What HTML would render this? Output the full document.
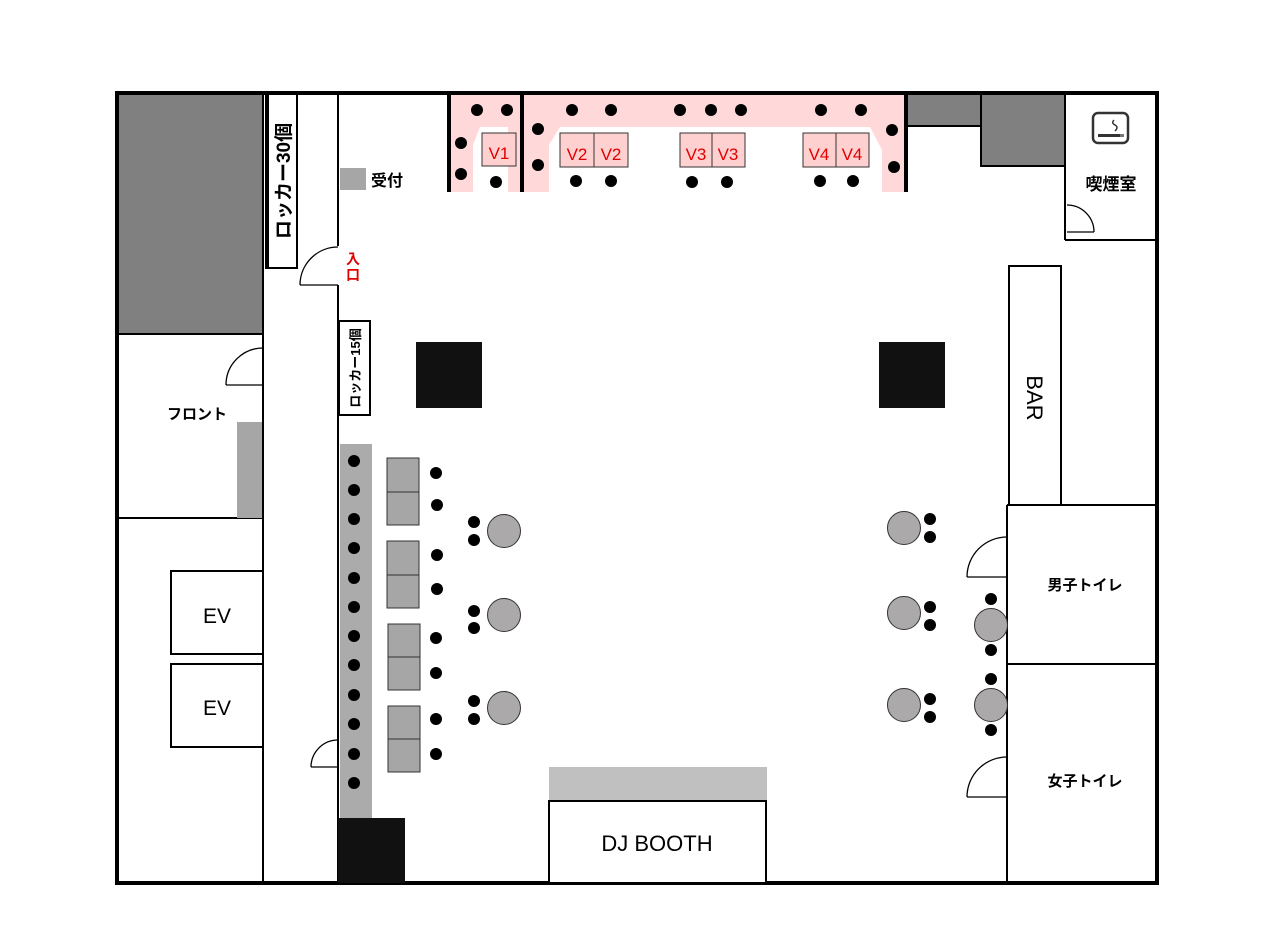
<!DOCTYPE html>
<html><head><meta charset="utf-8"><style>
html,body{margin:0;padding:0;background:#fff;}
svg{display:block;font-family:"Liberation Sans","Noto Sans CJK JP",sans-serif;}
</style></head><body>
<svg width="1280" height="945" viewBox="0 0 1280 945" xmlns="http://www.w3.org/2000/svg">
<rect width="1280" height="945" fill="#fff"/>
<rect x="118" y="94" width="145" height="240" fill="#808080"/>
<path d="M450,94 H521 V192 H508 V127 H480 L473,145 V192 H450 Z" fill="#ffd9d9"/>
<path d="M523,94 H905 V192 H882 V150 L870,127 H560 L549,145 V192 H523 Z" fill="#ffd9d9"/>
<rect x="907" y="94" width="74" height="32" fill="#808080" stroke="#000" stroke-width="2"/>
<rect x="981" y="94" width="84" height="72" fill="#808080" stroke="#000" stroke-width="2"/>
<rect x="117" y="93" width="1040" height="790" fill="none" stroke="#000" stroke-width="4"/>
<g stroke="#000" stroke-width="2" fill="none">
<line x1="263" y1="92" x2="263" y2="883"/>
<line x1="116" y1="334" x2="263" y2="334"/>
<line x1="116" y1="518" x2="263" y2="518"/>
<line x1="338" y1="92" x2="338" y2="246"/>
<line x1="338" y1="285" x2="338" y2="883"/>
<line x1="1065" y1="92" x2="1065" y2="240"/>
<line x1="1065" y1="240" x2="1158" y2="240"/>
<line x1="1007" y1="505" x2="1007" y2="883"/>
<line x1="1007" y1="505" x2="1158" y2="505"/>
<line x1="1007" y1="664" x2="1158" y2="664"/>
</g>
<g stroke="#000" stroke-width="4">
<line x1="449" y1="93" x2="449" y2="192"/>
<line x1="522" y1="93" x2="522" y2="192"/>
<line x1="906" y1="93" x2="906" y2="192"/>
</g>
<rect x="266" y="94" width="31" height="174" fill="#fff" stroke="#000" stroke-width="2"/>
<line x1="267" y1="94" x2="267" y2="268" stroke="#000" stroke-width="4"/>
<text transform="translate(290,181) rotate(-90)" font-size="19" font-weight="bold" text-anchor="middle">ロッカー30個</text>
<g stroke="#000" stroke-width="1.3" fill="none">
<path d="M300,285 H338 M300,285 A38,38 0 0 1 338,247"/>
<path d="M226,385 H263 M226,385 A37,37 0 0 1 263,348"/>
<path d="M311,767 H338 M311,767 A27,27 0 0 1 338,740"/>
<path d="M1067,232 H1094 M1094,232 A27,27 0 0 0 1067,205"/>
<path d="M967,577 H1007 M967,577 A40,40 0 0 1 1007,537"/>
<path d="M967,797 H1007 M967,797 A40,40 0 0 1 1007,757"/>
</g>
<text x="353" y="264" font-size="14" fill="#e00000" text-anchor="middle" font-weight="bold">入</text>
<text x="353" y="280" font-size="14" fill="#e00000" text-anchor="middle" font-weight="bold">口</text>
<rect x="340" y="168" width="26" height="22" fill="#a6a6a6"/>
<text x="371" y="186" font-size="16" font-weight="bold">受付</text>
<rect x="339" y="321" width="31" height="94" fill="#fff" stroke="#000" stroke-width="2"/>
<text transform="translate(360,368) rotate(-90)" font-size="13" font-weight="bold" text-anchor="middle">ロッカー15個</text>
<rect x="416" y="342" width="66" height="66" fill="#111"/>
<rect x="879" y="342" width="66" height="66" fill="#111"/>
<g fill="#ffd0d0" stroke="#333" stroke-width="1">
<rect x="482" y="133" width="34" height="33"/>
<rect x="560" y="133" width="34" height="34"/><rect x="594" y="133" width="34" height="34"/>
<rect x="680" y="133" width="32" height="34"/><rect x="712" y="133" width="33" height="34"/>
<rect x="803" y="133" width="33" height="34"/><rect x="836" y="133" width="33" height="34"/>
</g>
<g fill="#e00000" font-size="17" text-anchor="middle">
<text x="499" y="159">V1</text>
<text x="577" y="160">V2</text><text x="611" y="160">V2</text>
<text x="696" y="160">V3</text><text x="728" y="160">V3</text>
<text x="819" y="160">V4</text><text x="852" y="160">V4</text>
</g>
<g fill="#000">
<circle cx="477" cy="110" r="6"/><circle cx="507" cy="110" r="6"/>
<circle cx="461" cy="143" r="6"/><circle cx="461" cy="174" r="6"/><circle cx="496" cy="182" r="6"/>
<circle cx="572" cy="110" r="6"/><circle cx="611" cy="110" r="6"/>
<circle cx="680" cy="110" r="6"/><circle cx="711" cy="110" r="6"/><circle cx="741" cy="110" r="6"/>
<circle cx="821" cy="110" r="6"/><circle cx="861" cy="110" r="6"/>
<circle cx="538" cy="129" r="6"/><circle cx="538" cy="165" r="6"/>
<circle cx="892" cy="130" r="6"/><circle cx="894" cy="167" r="6"/>
<circle cx="576" cy="181" r="6"/><circle cx="611" cy="181" r="6"/>
<circle cx="692" cy="182" r="6"/><circle cx="727" cy="182" r="6"/>
<circle cx="820" cy="181" r="6"/><circle cx="853" cy="181" r="6"/>
</g>
<rect x="1093" y="113" width="35" height="30" rx="5" fill="#fff" stroke="#333" stroke-width="2.5"/>
<rect x="1098" y="134" width="22" height="3" fill="#333"/>
<rect x="1120" y="134" width="4" height="3" fill="#777"/>
<path d="M1114,120 q-3,3 1,5 q4,2 0,6" stroke="#333" stroke-width="1.5" fill="none"/>
<text x="1111" y="190" font-size="17" font-weight="bold" text-anchor="middle">喫煙室</text>
<rect x="1009" y="266" width="52" height="239" fill="#fff" stroke="#000" stroke-width="2"/>
<text transform="translate(1027,398) rotate(90)" font-size="22" text-anchor="middle">BAR</text>
<text x="1085" y="590" font-size="15" font-weight="bold" text-anchor="middle">男子トイレ</text>
<text x="1085" y="786" font-size="15" font-weight="bold" text-anchor="middle">女子トイレ</text>
<text x="197" y="419" font-size="15" font-weight="bold" text-anchor="middle">フロント</text>
<rect x="237" y="422" width="25" height="96" fill="#a6a6a6"/>
<rect x="171" y="571" width="92" height="83" fill="#fff" stroke="#000" stroke-width="2"/>
<rect x="171" y="664" width="92" height="83" fill="#fff" stroke="#000" stroke-width="2"/>
<text x="217" y="623" font-size="21" text-anchor="middle">EV</text>
<text x="217" y="715" font-size="21" text-anchor="middle">EV</text>
<rect x="340" y="444" width="32" height="374" fill="#ababab"/>
<rect x="338" y="818" width="67" height="65" fill="#111"/>
<g fill="#000">
<circle cx="354" cy="461" r="6"/><circle cx="354" cy="490" r="6"/><circle cx="354" cy="519" r="6"/>
<circle cx="354" cy="548" r="6"/><circle cx="354" cy="578" r="6"/><circle cx="354" cy="607" r="6"/>
<circle cx="354" cy="636" r="6"/><circle cx="354" cy="665" r="6"/><circle cx="354" cy="695" r="6"/>
<circle cx="354" cy="724" r="6"/><circle cx="354" cy="754" r="6"/><circle cx="354" cy="783" r="6"/>
</g>
<g fill="#a6a6a6" stroke="#333" stroke-width="1">
<rect x="387" y="458" width="32" height="34"/><rect x="387" y="492" width="32" height="33"/>
<rect x="387" y="541" width="32" height="34"/><rect x="387" y="575" width="32" height="33"/>
<rect x="388" y="624" width="32" height="33"/><rect x="388" y="657" width="32" height="33"/>
<rect x="388" y="706" width="32" height="33"/><rect x="388" y="739" width="32" height="33"/>
</g>
<g fill="#000">
<circle cx="436" cy="473" r="6"/><circle cx="437" cy="505" r="6"/>
<circle cx="437" cy="555" r="6"/><circle cx="437" cy="589" r="6"/>
<circle cx="436" cy="638" r="6"/><circle cx="436" cy="673" r="6"/>
<circle cx="436" cy="719" r="6"/><circle cx="436" cy="754" r="6"/>
<circle cx="474" cy="522" r="6"/><circle cx="474" cy="540" r="6"/>
<circle cx="474" cy="611" r="6"/><circle cx="474" cy="628" r="6"/>
<circle cx="474" cy="701" r="6"/><circle cx="474" cy="719" r="6"/>
<circle cx="930" cy="519" r="6"/><circle cx="930" cy="537" r="6"/>
<circle cx="930" cy="607" r="6"/><circle cx="930" cy="625" r="6"/>
<circle cx="930" cy="699" r="6"/><circle cx="930" cy="717" r="6"/>
<circle cx="991" cy="599" r="6"/><circle cx="991" cy="650" r="6"/>
<circle cx="991" cy="679" r="6"/><circle cx="991" cy="730" r="6"/>
</g>
<g fill="#aba9a9" stroke="#333" stroke-width="1">
<circle cx="504" cy="531" r="16.5"/><circle cx="504" cy="615" r="16.5"/><circle cx="504" cy="708" r="16.5"/>
<circle cx="904" cy="528" r="16.5"/><circle cx="904" cy="613" r="16.5"/><circle cx="904" cy="705" r="16.5"/>
<circle cx="991" cy="625" r="16.5"/><circle cx="991" cy="705" r="16.5"/>
</g>
<rect x="549" y="767" width="218" height="33" fill="#c0c0c0"/>
<rect x="549" y="801" width="217" height="82" fill="#fff" stroke="#000" stroke-width="2"/>
<text x="657" y="851" font-size="22" text-anchor="middle">DJ BOOTH</text>
</svg>
</body></html>
